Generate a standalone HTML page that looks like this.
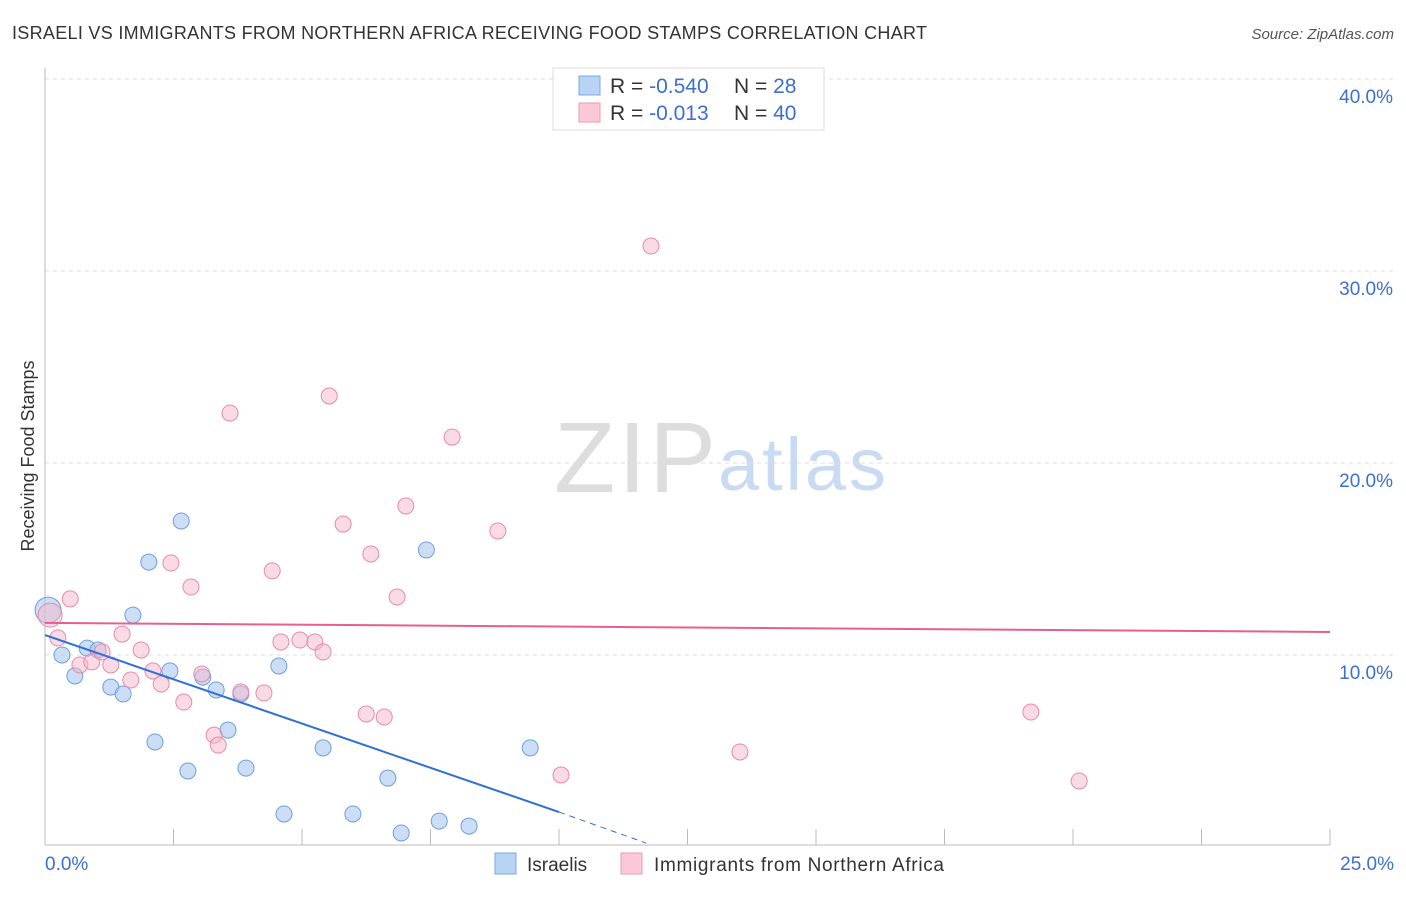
<!DOCTYPE html>
<html><head><meta charset="utf-8"><style>
body{margin:0;background:#fff;font-family:"Liberation Sans",sans-serif;}
svg text{font-family:"Liberation Sans",sans-serif;}
</style></head><body>
<svg id="c" width="1406" height="892">
<text x="12" y="39" font-size="18" fill="#333" textLength="915">ISRAELI VS IMMIGRANTS FROM NORTHERN AFRICA RECEIVING FOOD STAMPS CORRELATION CHART</text>
<text x="1394" y="39" font-size="15" fill="#555" text-anchor="end" font-style="italic">Source: ZipAtlas.com</text>
<text transform="translate(34,456) rotate(-90)" font-size="18" fill="#333" text-anchor="middle">Receiving Food Stamps</text>
<text x="716" y="492" font-size="100" fill="#ddd" text-anchor="end" textLength="162" font-family="Liberation Serif">ZIP</text>
<text x="718" y="490" font-size="74" fill="#c9dbf3" textLength="168">atlas</text>
<g id="grid"></g><g id="marks"></g>
<g>
<rect x="553" y="68" width="271" height="62" fill="#fff" stroke="#ddd"/>
<rect x="579" y="76" width="21" height="19" fill="#b9d3f5" stroke="#7aa7e5"/>
<rect x="579" y="103" width="21" height="19" fill="#fbc8d7" stroke="#ec9ab3"/>
<text x="610" y="93" font-size="21" fill="#333">R = <tspan fill="#3c6fd0">-0.540</tspan></text>
<text x="734" y="93" font-size="21" fill="#333">N = <tspan fill="#3c6fd0"> 28</tspan></text>
<text x="610" y="120" font-size="21" fill="#333">R = <tspan fill="#3c6fd0"> -0.013</tspan></text>
<text x="734" y="120" font-size="21" fill="#333">N = <tspan fill="#3c6fd0">40</tspan></text>
</g>
<g>
<rect x="495" y="853" width="21" height="21" fill="#b9d3f5" stroke="#7aa7e5"/>
<text x="527" y="871" font-size="19" fill="#333">Israelis</text>
<rect x="621" y="853" width="21" height="21" fill="#fbc8d7" stroke="#ec9ab3"/>
<text x="654" y="871" font-size="19" fill="#333" textLength="290">Immigrants from Northern Africa</text>
</g>
</svg>
<script>
const yTicks=[10,20,30,40];
const yTickLabels=["10.0%","20.0%","30.0%","40.0%"];
const xTickLabels=["0.0%","25.0%"];
const blueX=[0.06,0.33,0.58,0.82,1.03,1.28,1.52,1.71,2.02,2.14,2.43,2.65,2.78,3.07,3.33,3.56,3.81,3.91,4.55,4.65,5.41,5.99,6.67,6.93,7.42,7.67,8.25,9.44];
const blueY=[12.34,10.0,8.91,10.36,10.26,8.33,7.97,12.08,14.84,5.47,9.17,16.98,3.96,8.85,8.18,6.09,7.97,4.11,9.43,1.72,5.16,1.72,3.59,0.73,15.47,1.35,1.09,5.16];
const pinkX=[0.10,0.25,0.49,0.68,0.91,1.11,1.28,1.50,1.67,1.87,2.10,2.26,2.45,2.70,2.84,3.05,3.29,3.37,3.60,3.81,4.26,4.42,4.59,4.96,5.25,5.41,5.53,5.80,6.25,6.34,6.60,6.85,7.02,7.92,8.81,10.04,11.79,13.52,19.18,20.12];
const pinkY=[12.08,10.89,12.92,9.48,9.64,10.16,9.48,11.09,8.70,10.26,9.17,8.49,14.79,7.55,13.54,9.01,5.83,5.31,22.60,8.07,8.02,14.38,10.68,10.78,10.68,10.16,23.49,16.82,6.93,15.26,6.77,13.02,17.76,21.35,16.46,3.75,31.30,4.95,7.03,3.44];
const blueTrend=[11.04,1.82,0.2]; const blueTrendX=[0,10,11.7];
const pinkTrend=[11.67,11.20]; const pinkTrendX=[0,25];
const NS="http://www.w3.org/2000/svg";
const X=v=>45+v*51.4, Y=v=>847-v*19.2;
const grid=document.getElementById('grid'), marks=document.getElementById('marks');
function mk(p,tag,a){const e=document.createElementNS(NS,tag);for(const k in a)e.setAttribute(k,a[k]);p.appendChild(e);return e;}
yTicks.forEach((t,i)=>{
 const l=mk(grid,'line',{x1:45,x2:1394,y1:Y(t),y2:Y(t),stroke:'#ddd','stroke-dasharray':'4,4'});
 
 
 const tx=mk(grid,'text',{x:1393,y:Y(t)+24,'font-size':19,fill:'#3c6fd0','text-anchor':'end'});tx.textContent=yTickLabels[i];
 
 
});
let ax=mk(grid,'line',{x1:45,x2:45,y1:68,y2:845,stroke:'#bbb'});


ax=mk(grid,'line',{x1:45,x2:1330,y1:845,y2:845,stroke:'#bbb'});


for(let i=0;i<=10;i++){const t=mk(grid,'line',{x1:X(i*2.5),x2:X(i*2.5),y1:829,y2:845,stroke:'#bbb'});
 
 }
[[0,'start',45],[25,'end',1394]].forEach((d,i)=>{const t=mk(grid,'text',{x:d[2],y:870,'font-size':19,fill:'#3c6fd0','text-anchor':d[1]});t.textContent=xTickLabels[i];
 
 });
blueX.forEach((x,i)=>{const c=mk(marks,'circle',{cx:X(x),cy:Y(blueY[i]),r:i==0?13:8,fill:'#a9c8f0','fill-opacity':0.6,stroke:'#6d9fe0'});
 
 });
pinkX.forEach((x,i)=>{const c=mk(marks,'circle',{cx:X(x),cy:Y(pinkY[i]),r:i==0?12:8,fill:'#f5b8cb','fill-opacity':0.5,stroke:'#e88aa8'});
 
 });
let t=mk(marks,'line',{x1:X(blueTrendX[0]),y1:Y(blueTrend[0]),x2:X(blueTrendX[1]),y2:Y(blueTrend[1]),stroke:'#2f6fd6','stroke-width':2});


t=mk(marks,'line',{x1:X(blueTrendX[1]),y1:Y(blueTrend[1]),x2:X(blueTrendX[2]),y2:Y(blueTrend[2]),stroke:'#2f6fd6','stroke-width':1,'stroke-dasharray':'6,5'});


t=mk(marks,'line',{x1:X(pinkTrendX[0]),y1:Y(pinkTrend[0]),x2:X(pinkTrendX[1]),y2:Y(pinkTrend[1]),stroke:'#e8608a','stroke-width':2});


</script>
</body></html>
